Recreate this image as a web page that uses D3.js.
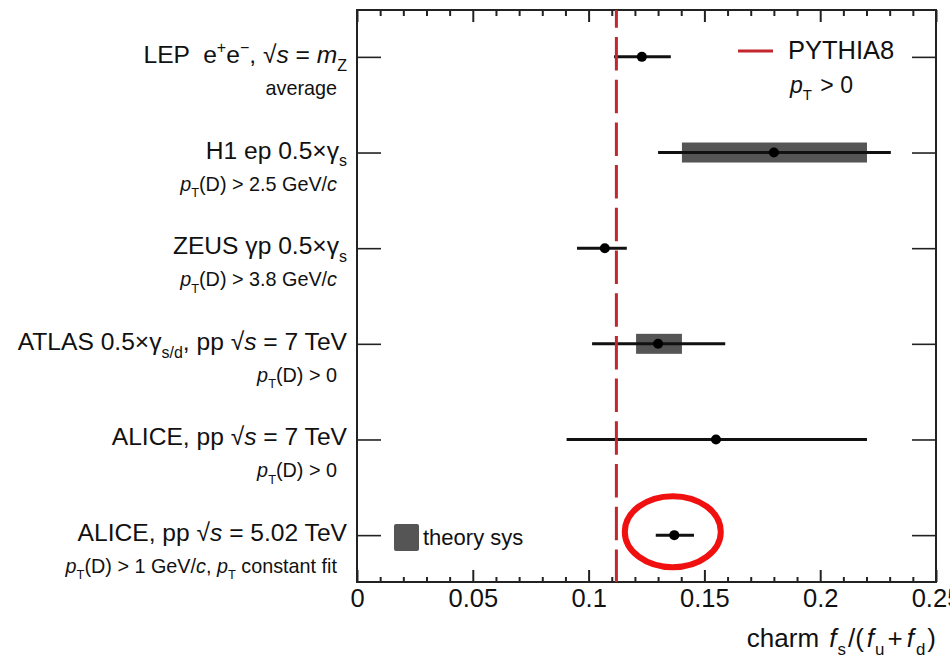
<!DOCTYPE html>
<html>
<head>
<meta charset="utf-8">
<script src="https://cdn.jsdelivr.net/npm/d3@7"></script>
<style>
  html, body { margin: 0; padding: 0; background: #fff; }
  svg { display: block; font-family: "Liberation Sans", Arial, Helvetica, sans-serif; }
  text { white-space: pre; }
</style>
</head>
<body>
<svg id="chart" width="950" height="659"></svg>
<script>
// ---------------- data ----------------
const categories = ["LEP", "H1", "ZEUS", "ATLAS", "ALICE 7 TeV", "ALICE 5.02 TeV"];
const labelMain = [
  "LEP  e<sup>+</sup>e<sup>−</sup>, √<i>s</i> = <i>m</i><sub>Z</sub>",
  "H1 ep 0.5×γ<sub>s</sub>",
  "ZEUS γp 0.5×γ<sub>s</sub>",
  "ATLAS 0.5×γ<sub>s/d</sub>, pp √<i>s</i> = 7 TeV",
  "ALICE, pp √<i>s</i> = 7 TeV",
  "ALICE, pp √<i>s</i> = 5.02 TeV"
];
const labelSub = [
  "average",
  "<i>p</i><sub>T</sub>(D) > 2.5 GeV/<i>c</i>",
  "<i>p</i><sub>T</sub>(D) > 3.8 GeV/<i>c</i>",
  "<i>p</i><sub>T</sub>(D) > 0",
  "<i>p</i><sub>T</sub>(D) > 0",
  "<i>p</i><sub>T</sub>(D) > 1 GeV/<i>c</i>, <i>p</i><sub>T</sub> constant fit"
];
const centralValue = [0.123, 0.180, 0.107, 0.130, 0.155, 0.137];
const errLow      = [0.111, 0.130, 0.095, 0.1015, 0.0905, 0.129];
const errHigh     = [0.1355, 0.2305, 0.1165, 0.159, 0.2202, 0.1455];
const sysLow      = [null, 0.1403, null, 0.1205, null, null];
const sysHigh     = [null, 0.2202, null, 0.1403, null, null];
const pythiaValue = 0.112;
const xTickValues = [0, 0.05, 0.1, 0.15, 0.2, 0.25];
const xTickLabels = ["0", "0.05", "0.1", "0.15", "0.2", "0.25"];
const xMinorTicks = [0.01,0.02,0.03,0.04,0.06,0.07,0.08,0.09,0.11,0.12,0.13,0.14,0.16,0.17,0.18,0.19,0.21,0.22,0.23,0.24];
const xTitle = "charm <g>3</g><i>f</i><g>1</g><sub>s</sub><g>2</g>/(<g>3</g><i>f</i><g>1</g><sub>u</sub><g>3</g>+<g>4</g><i>f</i><g>2</g><sub>d</sub><g>2</g>)";
const highlighted = "ALICE 5.02 TeV";

// ---------------- layout ----------------
const L = 357, R = 936, T = 10, B = 582;
const svg = d3.select("#chart");
const x = d3.scaleLinear().domain([0, 0.25]).range([L, R]);
const y = d3.scalePoint().domain(categories).range([T, B]).padding(0.49);

function rich(sel, markup, fs) {
  const re = /<(i|sub|sup|g)>(.*?)<\/\1>|([^<]+)/g;
  let m, cur = 0, gap = 0;
  while ((m = re.exec(markup))) {
    const kind = m[1] || "n";
    const txt = m[1] ? m[2] : m[3];
    if (kind === "g") { gap += +txt; continue; }
    const shift = kind === "sub" ? 0.32 * fs : kind === "sup" ? -0.4 * fs : 0;
    const t = sel.append("tspan").text(txt).attr("dy", shift - cur);
    if (gap) { t.attr("dx", gap); gap = 0; }
    cur = shift;
    if (kind === "i") t.attr("font-style", "italic");
    if (kind === "sub" || kind === "sup") t.attr("font-size", 0.65 * fs);
  }
}

const rows = categories.map((c, i) => ({
  cat: c, main: labelMain[i], sub: labelSub[i], v: centralValue[i],
  lo: errLow[i], hi: errHigh[i], sLo: sysLow[i], sHi: sysHigh[i]
}));

// ---------------- axes / frame ----------------
const axisColor = "#222";
svg.append("g").attr("transform", `translate(0,${B})`)
  .call(d3.axisBottom(x).tickValues(xTickValues).tickSizeInner(-12).tickSizeOuter(0)
    .tickPadding(7).tickFormat((d, i) => xTickLabels[i]))
  .call(g => g.select(".domain").remove())
  .call(g => g.selectAll("line").attr("stroke", axisColor).attr("stroke-width", 2))
  .call(g => g.selectAll("text").attr("font-size", 25.5).attr("fill", "#111")
    .attr("font-family", "Liberation Sans, Arial, sans-serif"));
svg.append("g").attr("transform", `translate(0,${B})`)
  .call(d3.axisBottom(x).tickValues(xMinorTicks).tickSizeInner(-5).tickSizeOuter(0).tickFormat(""))
  .call(g => g.select(".domain").remove())
  .call(g => g.selectAll("line").attr("stroke", axisColor).attr("stroke-width", 2));
svg.append("g").attr("transform", `translate(0,${T})`)
  .call(d3.axisTop(x).tickValues(xTickValues).tickSizeInner(-12).tickSizeOuter(0).tickFormat(""))
  .call(g => g.select(".domain").remove())
  .call(g => g.selectAll("line").attr("stroke", axisColor).attr("stroke-width", 2));
svg.append("g").attr("transform", `translate(0,${T})`)
  .call(d3.axisTop(x).tickValues(xMinorTicks).tickSizeInner(-6).tickSizeOuter(0).tickFormat(""))
  .call(g => g.select(".domain").remove())
  .call(g => g.selectAll("line").attr("stroke", axisColor).attr("stroke-width", 2));
svg.append("g").attr("transform", `translate(${L},0)`)
  .call(d3.axisLeft(y).tickSizeInner(-24).tickSizeOuter(0).tickFormat(""))
  .call(g => g.select(".domain").remove())
  .call(g => g.selectAll("line").attr("stroke", axisColor).attr("stroke-width", 1.6));
svg.append("g").attr("transform", `translate(${R},0)`)
  .call(d3.axisRight(y).tickSizeInner(-24).tickSizeOuter(0).tickFormat(""))
  .call(g => g.select(".domain").remove())
  .call(g => g.selectAll("line").attr("stroke", axisColor).attr("stroke-width", 1.6));
svg.append("rect").attr("x", L).attr("y", T).attr("width", R - L).attr("height", B - T)
  .attr("fill", "none").attr("stroke", axisColor).attr("stroke-width", 2);

// axis title
const title = svg.append("text").attr("x", R).attr("y", 647).attr("text-anchor", "end")
  .attr("font-size", 26).attr("fill", "#111");
rich(title, xTitle, 26);

// ---------------- row labels ----------------
rows.forEach(r => {
  const t1 = svg.append("text").attr("x", 347).attr("y", y(r.cat) + 6)
    .attr("text-anchor", "end").attr("font-size", 24.6).attr("fill", "#111");
  rich(t1, r.main, 24.6);
  const t2 = svg.append("text").attr("x", 337).attr("y", y(r.cat) + 38)
    .attr("text-anchor", "end").attr("font-size", 19.8).attr("fill", "#111");
  rich(t2, r.sub, 19.8);
});

// ---------------- marks ----------------
svg.append("g").selectAll("rect").data(rows.filter(r => r.sLo != null)).join("rect")
  .attr("x", d => x(d.sLo)).attr("width", d => x(d.sHi) - x(d.sLo))
  .attr("y", d => y(d.cat) - 10).attr("height", 20)
  .attr("fill", "#555");

svg.append("g").selectAll("line").data(rows).join("line")
  .attr("x1", d => x(d.lo)).attr("x2", d => x(d.hi))
  .attr("y1", d => y(d.cat)).attr("y2", d => y(d.cat))
  .attr("stroke", "#111").attr("stroke-width", 3);

svg.append("line").attr("x1", x(pythiaValue)).attr("x2", x(pythiaValue))
  .attr("y1", T).attr("y2", B)
  .attr("stroke", "#c1272d").attr("stroke-width", 3)
  .attr("stroke-dasharray", "33.5,9.2").attr("stroke-dashoffset", 15.7);

svg.append("g").selectAll("circle").data(rows).join("circle")
  .attr("cx", d => x(d.v)).attr("cy", d => y(d.cat)).attr("r", 5)
  .attr("fill", "#000");

// highlight ellipse
const hl = rows.find(r => r.cat === highlighted);
svg.append("ellipse").attr("cx", x(hl.v) - 1.5).attr("cy", y(hl.cat) - 3.5)
  .attr("rx", 48).attr("ry", 35.5)
  .attr("fill", "none").attr("stroke", "#f01010").attr("stroke-width", 6);

// ---------------- legends ----------------
svg.append("line").attr("x1", 738).attr("x2", 773).attr("y1", 51).attr("y2", 51)
  .attr("stroke", "#c1272d").attr("stroke-width", 3);
svg.append("text").attr("x", 788).attr("y", 59).attr("font-size", 25.5).attr("fill", "#111")
  .text("PYTHIA8");
const pt = svg.append("text").attr("x", 790).attr("y", 93).attr("font-size", 23).attr("fill", "#111");
rich(pt, "<i>p</i><sub>T</sub><g>2</g> > 0", 23);

svg.append("rect").attr("x", 394).attr("y", 524).attr("width", 25).attr("height", 27)
  .attr("rx", 2).attr("fill", "#555");
svg.append("text").attr("x", 423).attr("y", 545).attr("font-size", 22).attr("fill", "#111")
  .text("theory sys");
</script>
</body>
</html>
